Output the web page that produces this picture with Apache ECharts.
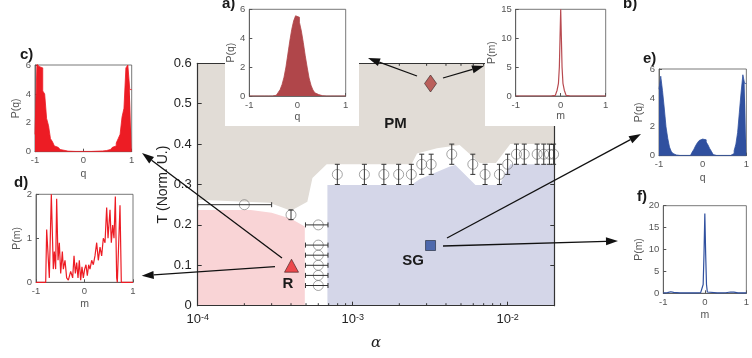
<!DOCTYPE html>
<html>
<head>
<meta charset="utf-8">
<script src="https://cdn.jsdelivr.net/npm/echarts@6/dist/echarts.min.js"></script>
<style>
  html, body { margin: 0; padding: 0; background: #fff; }
  #main { width: 752px; height: 358px; }
</style>
</head>
<body>
<div id="main"></div>
<script>
// ---------- phase diagram (main panel) ----------
// phase boundaries: alpha, temperature
var pmAlpha = [1e-4, 2.9e-4, 4.0e-4, 5.1e-4, 5.5e-4, 6.8e-4, 2.4e-3, 2.6e-3, 3.5e-3, 4.9e-3, 6.6e-3, 8.4e-3, 1.04e-2, 2e-2];
var pmT     = [0.262, 0.255, 0.235, 0.257, 0.316, 0.35, 0.35, 0.377, 0.39, 0.398, 0.353, 0.353, 0.40, 0.40];
var rAlpha  = [1e-4, 2.2e-4, 3e-4, 4e-4, 4.91e-4];
var rT      = [0.237, 0.237, 0.23, 0.215, 0.196];
var sgAlpha = [6.87e-4, 2.39e-3, 2.7e-3, 4.2e-3, 4.6e-3, 6.2e-3, 8.85e-3, 1.04e-2, 2e-2];
var sgT     = [0.299, 0.299, 0.313, 0.344, 0.348, 0.299, 0.299, 0.35, 0.35];

// transition points with vertical error bars
var vAlpha = [4.0e-4, 7.96e-4, 1.19e-3, 1.59e-3, 1.98e-3, 2.39e-3, 2.79e-3, 3.21e-3, 4.36e-3, 5.96e-3,
              7.15e-3, 8.85e-3, 1.0e-2, 1.14e-2, 1.28e-2, 1.55e-2, 1.71e-2, 1.86e-2, 1.98e-2];
var vT     = [0.225, 0.325, 0.325, 0.325, 0.325, 0.325, 0.35, 0.35, 0.375, 0.35,
              0.325, 0.325, 0.35, 0.375, 0.375, 0.375, 0.375, 0.375, 0.375];
var vErr   = [0.012, 0.025, 0.025, 0.025, 0.025, 0.025, 0.025, 0.025, 0.025, 0.025,
              0.025, 0.025, 0.025, 0.025, 0.025, 0.025, 0.025, 0.025, 0.025];
// transition points with horizontal error bars
var hAlpha = [2e-4, 6e-4, 6e-4, 6e-4, 6e-4, 6e-4, 6e-4];
var hT     = [0.25, 0.2, 0.15, 0.125, 0.1, 0.075, 0.05];
var hLo    = [1e-4, 4.96e-4, 4.96e-4, 4.96e-4, 4.96e-4, 4.96e-4, 4.96e-4];
var hHi    = [3e-4, 6.93e-4, 6.93e-4, 6.93e-4, 6.93e-4, 6.93e-4, 6.93e-4];

// sample state markers
var pmPoint = [3.18e-3, 0.55];
var rPoint  = [4.03e-4, 0.099];
var sgPoint = [3.18e-3, 0.149];

// log-axis minor ticks
var minorTicks = [2e-4, 3e-4, 4e-4, 5e-4, 6e-4, 7e-4, 8e-4, 9e-4,
                  2e-3, 3e-3, 4e-3, 5e-3, 6e-3, 7e-3, 8e-3, 9e-3];

// ---------- insets ----------
// histograms: 50 bins of width 0.04 from -1 to 1
var binStart = -1, binWidth = 0.04;
var aHistQ = [0,0,0,0,0,0,0,0,0,0,0,0,
              0.02,0.05,0.12,0.25,0.45,0.8,1.3,2.0,2.9,3.8,4.6,5.2,5.55,5.45,5.1,4.5,3.7,2.8,2.0,1.25,
              0.75,0.42,0.22,0.1,0.04,0.02,
              0,0,0,0,0,0,0,0,0,0,0,0];
var cHistQ = [1.2,6.1,5.9,5.8,4.2,4.0,2.3,1.8,0.9,0.7,0.4,0.3,0.2,0.15,0.1,0.08,
              0.04,0.03,0.03,0.02,0.02,0.02,0.02,0.02,0.02,0.02,0.02,0.02,0.02,0.02,0.03,0.03,0.04,0.04,
              0.05,0.06,0.08,0.1,0.15,0.2,0.3,0.4,0.6,0.9,1.2,2.4,3.0,5.8,6.0,4.3];
var eHistQ = [4.6,5.5,4.5,3.3,2.0,1.2,0.6,0.3,0.15,0.05,0.02,
              0.02,0.02,0.02,0.02,0.02,0.02,0.02,
              0.05,0.25,0.45,0.7,0.9,1.05,1.15,1.2,1.1,0.95,0.75,0.5,0.3,0.08,
              0.02,0.02,0.02,0.02,0.02,0.02,0.02,0.02,0.02,
              0.05,0.15,0.35,0.8,1.6,3.0,4.4,5.6,5.0];

// magnetisation distributions
var aM = [-1, -0.5, -0.2, -0.12, -0.08, -0.05, -0.03, -0.015, 0, 0.015, 0.03, 0.05, 0.08, 0.12, 0.2, 0.5, 1];
var aP = [0, 0, 0.02, 0.1, 1.0, 2.2, 5, 10, 15, 10, 5, 2.2, 1.0, 0.1, 0.02, 0, 0];
var dM = [-1, -0.80, -0.78, -0.725, -0.684, -0.643, -0.622, -0.595, -0.574, -0.546, -0.519, -0.491, -0.457,
          -0.436, -0.402, -0.368, -0.333, -0.285, -0.244, -0.216, -0.189, -0.161, -0.134,
          -0.107, -0.079, -0.052, -0.024, 0.003, 0.031, 0.058, 0.086, 0.113, 0.148,
          0.182, 0.216, 0.251, 0.285, 0.320, 0.354, 0.388, 0.423, 0.457, 0.485,
          0.526, 0.553, 0.581, 0.608, 0.636, 0.663, 0.677, 0.704, 0.732, 0.759, 1];
var dP = [0, 0, 1.2, 0.1, 2.0, 0.3, 0.7, 0.3, 1.9, 0.5, 0.9, 0.2, 0.7,
          0.3, 0.5, 0.1, 0.05, 0.25, 0.1, 0.6, 0.2, 0.45, 0.1,
          0.5, 0.05, 0.35, 0.1, 0.3, 0.4, 0.15, 0.4, 0.3, 0.5,
          0.4, 0.6, 0.9, 0.5, 0.8, 0.6, 1.0, 0.9, 1.7, 1.0,
          1.65, 0.9, 1.3, 1.0, 1.95, 0.1, 0, 0, 1.75, 0, 0];
var fM = [-1, -0.9, -0.82, -0.75, -0.6, -0.4, -0.2, -0.1, -0.06, -0.04, -0.02, 0, 0.02, 0.04, 0.06, 0.1, 0.3, 0.5, 0.62, 0.7, 0.8, 1];
var fP = [0.1, 0.15, 0.35, 0.2, 0.1, 0.12, 0.1, 0.15, 0.3, 2, 9, 18.2, 9, 2, 0.3, 0.15, 0.1, 0.12, 0.3, 0.25, 0.1, 0.1];

var FONT = '"Liberation Sans", Arial, Helvetica, sans-serif';
var PM_COL = '#e1dcd6', R_COL = '#f9d4d6', SG_COL = '#d4d6e8';
var DARKRED = '#b0464a', RED = '#ed1c24', BLUE = '#30509f';

function zip(a, b) { return a.map(function (v, i) { return [v, b[i]]; }); }
function histData(vals) {
  var out = vals.map(function (v, i) { return [binStart + i * binWidth, v]; });
  out.push([binStart + vals.length * binWidth, vals[vals.length - 1]]);
  return out;
}

var chart = echarts.init(document.getElementById('main'));

// inset layouts
var insets = [
  { left: 249.3, top: 9.3,   width: 96.4, height: 86.7, ymax: 6,  yint: 2, xname: 'q', yname: 'P(q)', xgap: 16, ygap: 12 },
  { left: 515.7, top: 9.3,   width: 90,   height: 86.7, ymax: 15, yint: 5, xname: 'm', yname: 'P(m)', xgap: 15, ygap: 15 },
  { left: 35,    top: 65,    width: 96.7, height: 86.7, ymax: 6,  yint: 2, xname: 'q', yname: 'P(q)', xgap: 17, ygap: 12 },
  { left: 36,    top: 194.3, width: 97,   height: 88,   ymax: 2,  yint: 1, xname: 'm', yname: 'P(m)', xgap: 16, ygap: 12 },
  { left: 659,   top: 69,    width: 96,   height: 86.7, ymax: 6,  yint: 2, xname: 'q', yname: 'P(q)', xgap: 17, ygap: 14 },
  { left: 663.3, top: 205.7, width: 90,   height: 87.6, ymax: 20, yint: 5, xname: 'm', yname: 'P(m)', xgap: 16, ygap: 15 }
];

var grids = [{ left: 197.7, top: 63.3, width: 356.6, height: 242.4 }];
var xAxes = [], yAxes = [];

var mainLine = { show: true, onZero: false, lineStyle: { color: '#333', width: 1.2 } };
var logLabel = {
  margin: 7,
  formatter: function (v) {
    var l = Math.log10(v), e = Math.round(l);
    if (Math.abs(l - e) > 1e-6) return '';
    return '{b|10}{s|' + e + '}';
  },
  rich: {
    b: { fontSize: 13, fontFamily: FONT, color: '#222' },
    s: { fontSize: 9, fontFamily: FONT, color: '#222', verticalAlign: 'top' }
  }
};
xAxes.push({
  gridIndex: 0, type: 'log', logBase: 10, min: 1e-4, max: 0.02, z: 10,
  axisLine: mainLine, axisTick: { inside: true, length: 4, lineStyle: { color: '#333' } },
  axisLabel: logLabel, splitLine: { show: false },
  name: 'α', nameLocation: 'middle', nameGap: 30,
  nameTextStyle: { fontFamily: '"DejaVu Serif", "Liberation Serif", serif', fontStyle: 'italic', fontSize: 15, color: '#222' }
});
xAxes.push({
  gridIndex: 0, type: 'log', logBase: 10, min: 1e-4, max: 0.02, position: 'top', z: 10,
  axisLine: mainLine, axisTick: { inside: true, length: 4, lineStyle: { color: '#333' } },
  axisLabel: { show: false }, splitLine: { show: false }
});
yAxes.push({
  gridIndex: 0, type: 'value', min: 0, max: 0.6, interval: 0.1, z: 10,
  axisLine: mainLine, axisTick: { inside: true, length: 4, lineStyle: { color: '#333' } },
  splitLine: { show: false },
  axisLabel: {
    margin: 6, fontSize: 13, fontFamily: FONT, color: '#222',
    formatter: function (v) { return v === 0 ? '0' : v.toFixed(1); }
  },
  name: 'T (Norm. U.)', nameLocation: 'middle', nameGap: 24,
  nameTextStyle: { fontSize: 14, fontFamily: FONT, color: '#222' }
});
yAxes.push({
  gridIndex: 0, type: 'value', min: 0, max: 0.6, interval: 0.1, position: 'right', z: 10,
  axisLine: mainLine, axisTick: { inside: true, length: 4, lineStyle: { color: '#333' } },
  axisLabel: { show: false }, splitLine: { show: false }
});

insets.forEach(function (g, i) {
  grids.push({ left: g.left, top: g.top, width: g.width, height: g.height, show: true,
               borderColor: '#555', borderWidth: 0.8, backgroundColor: '#fff', z: 60 });
  var gi = i + 1;
  var lbl = { fontSize: 9.5, fontFamily: FONT, color: '#555', margin: 4 };
  var nm = { fontSize: 10.5, fontFamily: FONT, color: '#555' };
  var ax = { onZero: false, lineStyle: { color: '#555', width: 0.8 } };
  xAxes.push({
    gridIndex: gi, type: 'value', min: -1, max: 1, interval: 1, z: 61,
    axisLine: ax, axisTick: { inside: true, length: 3, lineStyle: { color: '#555' } },
    axisLabel: lbl, splitLine: { show: false },
    name: g.xname, nameLocation: 'middle', nameGap: g.xgap, nameTextStyle: nm
  });
  yAxes.push({
    gridIndex: gi, type: 'value', min: 0, max: g.ymax, interval: g.yint, z: 61,
    axisLine: ax, axisTick: { inside: true, length: 3, lineStyle: { color: '#555' } },
    axisLabel: lbl, splitLine: { show: false },
    name: g.yname, nameLocation: 'middle', nameGap: g.ygap, nameTextStyle: nm
  });
});

function areaSeries(xs, ys, color, origin) {
  return {
    type: 'line', xAxisIndex: 0, yAxisIndex: 0, data: zip(xs, ys), z: 1,
    showSymbol: false, silent: true, lineStyle: { width: 0, opacity: 0 },
    areaStyle: { color: color, opacity: 1, origin: origin }
  };
}
// inset k (0..5) uses axis index k + 2
function histSeries(k, vals, color) {
  return {
    type: 'line', xAxisIndex: k + 2, yAxisIndex: k + 2, data: histData(vals), step: 'end', z: 62,
    showSymbol: false, lineStyle: { color: color, width: 0.8 },
    areaStyle: { color: color, opacity: 1 }
  };
}
function lineSeries(k, xs, ys, color) {
  return {
    type: 'line', xAxisIndex: k + 2, yAxisIndex: k + 2, data: zip(xs, ys), z: 62,
    showSymbol: false, lineStyle: { color: color, width: 1.2 }
  };
}
var ebStyle = { stroke: '#333', lineWidth: 1 };

var series = [
  areaSeries(pmAlpha, pmT, PM_COL, 'end'),
  areaSeries(rAlpha, rT, R_COL, 'start'),
  areaSeries(sgAlpha, sgT, SG_COL, 'start'),
  {
    type: 'custom', xAxisIndex: 0, yAxisIndex: 0, z: 3, silent: true,
    data: minorTicks.map(function (v) { return [v, 0]; }),
    renderItem: function (params, api) {
      var b = api.coord([api.value(0), 0]), t = api.coord([api.value(0), 0.6]);
      return { type: 'group', children: [
        { type: 'line', shape: { x1: b[0], y1: b[1], x2: b[0], y2: b[1] - 2.5 }, style: { stroke: '#333', lineWidth: 1 } },
        { type: 'line', shape: { x1: t[0], y1: t[1], x2: t[0], y2: t[1] + 2.5 }, style: { stroke: '#333', lineWidth: 1 } }
      ] };
    }
  },
  {
    type: 'scatter', xAxisIndex: 0, yAxisIndex: 0, z: 4, symbol: 'circle', symbolSize: 10,
    data: zip(vAlpha, vT).concat(zip(hAlpha, hT)),
    itemStyle: { color: 'rgba(0,0,0,0)', borderColor: '#707070', borderWidth: 0.8 }
  },
  {
    type: 'custom', xAxisIndex: 0, yAxisIndex: 0, z: 5, silent: true,
    data: vAlpha.map(function (a, i) { return [a, vT[i], vT[i] - vErr[i], vT[i] + vErr[i]]; }),
    renderItem: function (params, api) {
      var lo = api.coord([api.value(0), api.value(2)]), hi = api.coord([api.value(0), api.value(3)]);
      var x = lo[0];
      return { type: 'group', children: [
        { type: 'line', shape: { x1: x, y1: lo[1], x2: x, y2: hi[1] }, style: ebStyle },
        { type: 'line', shape: { x1: x - 2.5, y1: lo[1], x2: x + 2.5, y2: lo[1] }, style: ebStyle },
        { type: 'line', shape: { x1: x - 2.5, y1: hi[1], x2: x + 2.5, y2: hi[1] }, style: ebStyle }
      ] };
    }
  },
  {
    type: 'custom', xAxisIndex: 0, yAxisIndex: 0, z: 5, silent: true,
    data: hAlpha.map(function (a, i) { return [a, hT[i], hLo[i], hHi[i]]; }),
    renderItem: function (params, api) {
      var lo = api.coord([api.value(2), api.value(1)]), hi = api.coord([api.value(3), api.value(1)]);
      var y = lo[1];
      return { type: 'group', children: [
        { type: 'line', shape: { x1: lo[0], y1: y, x2: hi[0], y2: y }, style: ebStyle },
        { type: 'line', shape: { x1: lo[0], y1: y - 2.5, x2: lo[0], y2: y + 2.5 }, style: ebStyle },
        { type: 'line', shape: { x1: hi[0], y1: y - 2.5, x2: hi[0], y2: y + 2.5 }, style: ebStyle }
      ] };
    }
  },
  { type: 'scatter', xAxisIndex: 0, yAxisIndex: 0, z: 6, symbol: 'diamond', symbolSize: [12, 17],
    data: [pmPoint], itemStyle: { color: '#b0403c', borderColor: '#3a2a2a', borderWidth: 0.8 } },
  { type: 'scatter', xAxisIndex: 0, yAxisIndex: 0, z: 6, symbol: 'triangle', symbolSize: [14, 13],
    data: [rPoint], itemStyle: { color: '#e8262b', borderColor: '#3a2020', borderWidth: 0.8 } },
  { type: 'scatter', xAxisIndex: 0, yAxisIndex: 0, z: 6, symbol: 'rect', symbolSize: 10,
    data: [sgPoint], itemStyle: { color: '#2a4c9c', borderColor: '#202838', borderWidth: 0.8 } },
  histSeries(0, aHistQ, DARKRED),
  lineSeries(1, aM, aP, '#b84a50'),
  histSeries(2, cHistQ, RED),
  lineSeries(3, dM, dP, RED),
  histSeries(4, eHistQ, BLUE),
  lineSeries(5, fM, fP, BLUE)
];

// annotation arrows and labels
function arrow(x1, y1, x2, y2) {
  var dx = x2 - x1, dy = y2 - y1, len = Math.sqrt(dx * dx + dy * dy);
  var ux = dx / len, uy = dy / len, hl = 12, hw = 4;
  var bx = x2 - ux * hl, by = y2 - uy * hl;
  return [
    { type: 'line', z: 100, shape: { x1: x1, y1: y1, x2: bx, y2: by }, style: { stroke: '#111', lineWidth: 1.3 } },
    { type: 'polygon', z: 100, shape: { points: [[x2, y2], [bx - uy * hw, by + ux * hw], [bx + uy * hw, by - ux * hw]] },
      style: { fill: '#111' } }
  ];
}
function label(text, x, y, size, align) {
  return { type: 'text', z: 100, x: x, y: y,
           style: { text: text, fontSize: size, fontWeight: 'bold', fontFamily: FONT, fill: '#1a1a1a',
                    textAlign: align || 'center', textVerticalAlign: 'middle' } };
}
var graphics = [
  { type: 'rect', z: 50, shape: { x: 225, y: 0, width: 134, height: 126 }, style: { fill: '#fff' } },
  { type: 'rect', z: 50, shape: { x: 485, y: 0, width: 125, height: 126 }, style: { fill: '#fff' } },
  label('PM', 395.5, 123.5, 15),
  label('R', 288, 284, 15),
  label('SG', 413, 261, 15),
  label('a)', 222, 4, 15, 'left'),
  label('b)', 623, 4, 15, 'left'),
  label('c)', 20, 55, 15, 'left'),
  label('d)', 14, 183, 15, 'left'),
  label('e)', 643, 59, 15, 'left'),
  label('f)', 637, 197, 15, 'left')
].concat(arrow(417, 76, 368, 58))
 .concat(arrow(443, 78, 484, 66))
 .concat(arrow(282, 258, 142, 153))
 .concat(arrow(275, 266.7, 141.7, 275.7))
 .concat(arrow(447, 238, 641, 134))
 .concat(arrow(443, 246, 618, 241));

chart.setOption({
  animation: false,
  backgroundColor: '#fff',
  grid: grids,
  xAxis: xAxes,
  yAxis: yAxes,
  series: series,
  graphic: { elements: graphics }
});
</script>
</body>
</html>
